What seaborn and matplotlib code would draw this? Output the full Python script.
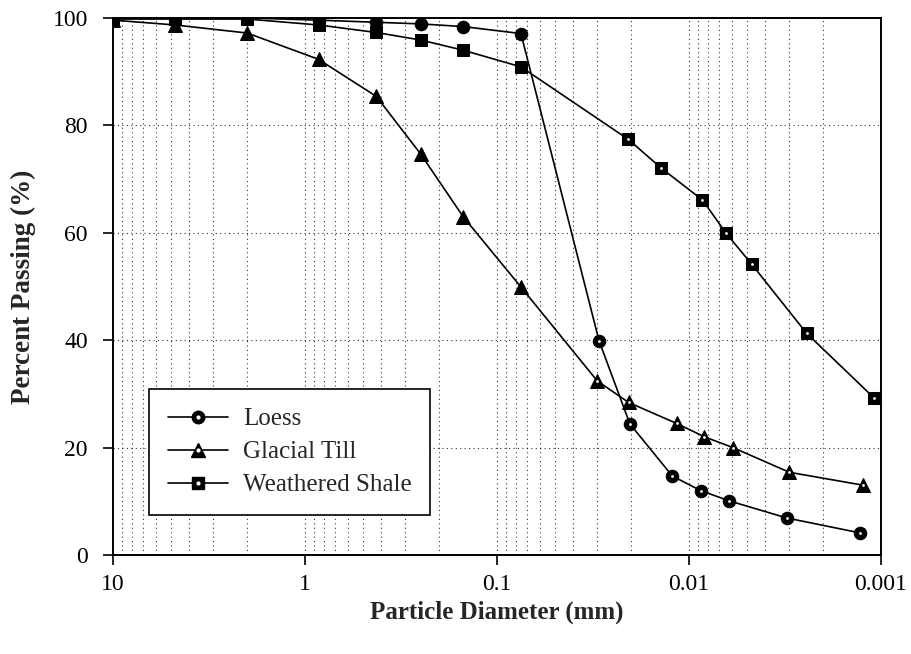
import pandas as pd
import matplotlib.pyplot as plt
import seaborn as sns
from matplotlib.lines import Line2D

# Dados granulométricos (sieve = primeiros pontos, cheios; hydrometer = com ponto branco)
loess_d = [10, 4.75, 2.0, 0.85, 0.425, 0.25, 0.15, 0.075,
           0.0294, 0.0203, 0.0122, 0.0087, 0.0062, 0.0031, 0.00128]
loess_p = [100, 100, 100, 99.6, 99.2, 98.9, 98.4, 97.1,
           39.9, 24.4, 14.7, 12.0, 10.1, 6.9, 4.1]

till_d = [10, 4.75, 2.0, 0.85, 0.425, 0.25, 0.15, 0.075,
          0.0300, 0.0206, 0.0116, 0.0083, 0.0059, 0.0030, 0.00124]
till_p = [99.6, 98.7, 97.2, 92.3, 85.4, 74.7, 63.0, 49.9,
          32.4, 28.4, 24.5, 22.0, 20.0, 15.4, 13.0]

shale_d = [10, 4.75, 2.0, 0.85, 0.425, 0.25, 0.15, 0.075,
           0.0207, 0.0140, 0.0085, 0.0064, 0.0047, 0.00244, 0.00109]
shale_p = [99.8, 99.8, 99.8, 98.7, 97.3, 95.9, 94.0, 90.9,
           77.4, 72.1, 66.1, 59.9, 54.1, 41.3, 29.3]

n_sieve = 8
materiais = ["Loess", "Glacial Till", "Weathered Shale"]
marcadores = {"Loess": "o", "Glacial Till": "^", "Weathered Shale": "s"}
tam = {"Loess": 9, "Glacial Till": 10, "Weathered Shale": 8.5}

frames = []
for nome, d, p in [("Loess", loess_d, loess_p),
                   ("Glacial Till", till_d, till_p),
                   ("Weathered Shale", shale_d, shale_p)]:
    df = pd.DataFrame({"Diametro": d, "Passante": p})
    df["Material"] = nome
    df["Hidrometro"] = [False] * n_sieve + [True] * (len(d) - n_sieve)
    frames.append(df)
dados = pd.concat(frames, ignore_index=True)

sns.set_theme(style="ticks")
plt.rcParams["font.family"] = ["Liberation Serif", "DejaVu Serif"]

fig = plt.figure(figsize=(9.11, 6.54), dpi=100)
ax = fig.add_axes([0.124, 0.1514, 0.843, 0.8211])

for nome in materiais:
    sub = dados[dados["Material"] == nome]
    sns.lineplot(data=sub, x="Diametro", y="Passante", ax=ax, color="black",
                 marker=marcadores[nome], markersize=tam[nome],
                 markeredgecolor="black", markerfacecolor="black",
                 linewidth=1.2, estimator=None, sort=False, legend=False)
    hid = sub[sub["Hidrometro"]]
    sns.scatterplot(data=hid, x="Diametro", y="Passante", ax=ax, color="white",
                    s=4, linewidth=0, zorder=5, legend=False)

ax.set_xscale("log")
ax.set_xlim(10, 0.001)
ax.set_ylim(0, 100)
ax.set_xticks([10, 1, 0.1, 0.01, 0.001])
ax.set_xticklabels(["10", "1", "0.1", "0.01", "0.001"])
ax.set_yticks([0, 20, 40, 60, 80, 100])
ax.tick_params(axis="both", which="major", labelsize=17, length=7, width=1.2,
               color="black", labelcolor="black")
ax.tick_params(axis="x", which="major", pad=7)
ax.tick_params(axis="y", which="major", pad=11)
ax.tick_params(axis="x", which="minor", length=0)

ax.grid(True, which="both", axis="x", linestyle=(0, (1, 3)), color="black",
        linewidth=0.8, alpha=0.8)
ax.grid(True, which="major", axis="y", linestyle=(0, (1, 3)), color="black",
        linewidth=0.8, alpha=0.8)

for s in ax.spines.values():
    s.set_visible(True)
    s.set_color("black")
    s.set_linewidth(1.4)

ax.set_xlabel("Particle Diameter (mm)", fontsize=18, fontweight="bold", labelpad=4)
ax.set_ylabel("Percent Passing (%)", fontsize=19.5, fontweight="bold", labelpad=12)

alcas = []
for nome in materiais:
    l1 = Line2D([], [], color="black", marker=marcadores[nome], markersize=tam[nome],
                markerfacecolor="black", markeredgecolor="black", linewidth=1.2)
    l2 = Line2D([], [], color="white", marker="o", markersize=2, linestyle="none")
    alcas.append((l1, l2))
leg = ax.legend(alcas, materiais, loc="lower left", bbox_to_anchor=(0.047, 0.074),
                borderaxespad=0, fontsize=18, frameon=True, fancybox=False,
                edgecolor="black", handlelength=2.4, handletextpad=0.6,
                borderpad=0.75, labelspacing=0.42, framealpha=1)
leg.get_frame().set_linewidth(1.2)

plt.savefig("out.png", dpi=100)
